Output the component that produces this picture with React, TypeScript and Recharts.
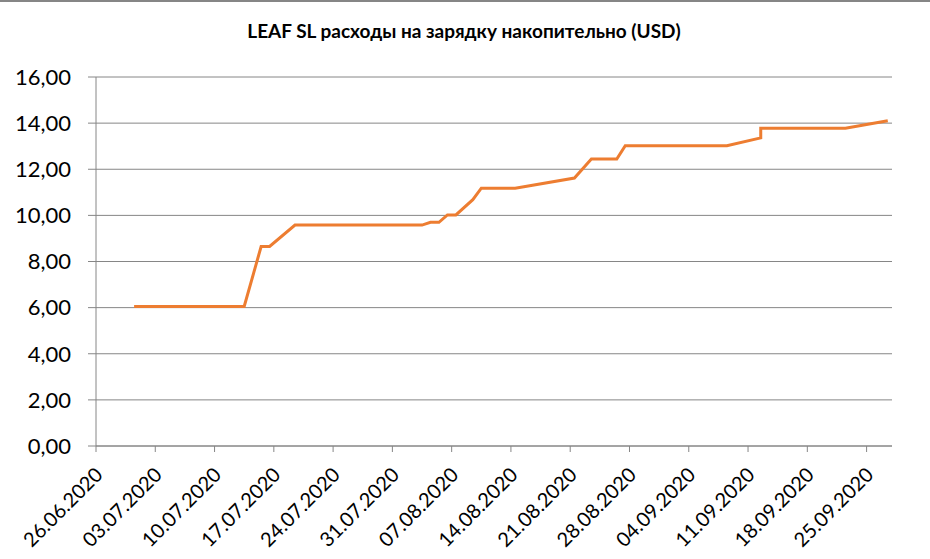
import { LineChart, Line, XAxis, YAxis, CartesianGrid } from "recharts";

const startDate = "26.06.2020";

const dates = [
  "30.06.2020", "13.07.2020", "15.07.2020", "16.07.2020", "19.07.2020",
  "03.08.2020", "04.08.2020", "05.08.2020", "06.08.2020", "07.08.2020",
  "09.08.2020", "10.08.2020", "14.08.2020", "21.08.2020", "23.08.2020",
  "26.08.2020", "27.08.2020", "08.09.2020", "12.09.2020", "12.09.2020",
  "22.09.2020", "27.09.2020",
];

const costs = [
  6.05, 6.05, 8.65, 8.65, 9.58,
  9.58, 9.7, 9.7, 10.02, 10.02,
  10.68, 11.18, 11.18, 11.62, 12.44,
  12.44, 13.02, 13.02, 13.36, 13.78,
  13.78, 14.1,
];

const tickLabels = [
  "26.06.2020", "03.07.2020", "10.07.2020", "17.07.2020", "24.07.2020",
  "31.07.2020", "07.08.2020", "14.08.2020", "21.08.2020", "28.08.2020",
  "04.09.2020", "11.09.2020", "18.09.2020", "25.09.2020",
];

const yTicks = [0, 2, 4, 6, 8, 10, 12, 14, 16];

const title = "LEAF SL расходы на зарядку накопительно (USD)";

const FONT = "Lato, 'Open Sans', sans-serif";
const AXIS = "#868686";

function toDay(s: string) {
  const [d, m, y] = s.split(".").map(Number);
  return Date.UTC(y, m - 1, d) / 86400000;
}

const day0 = toDay(startDate);

const data = dates.map((d, i) => ({ day: toDay(d) - day0, cost: costs[i] }));

// Excel-style date axis: points sit in the middle of each day slot
const tickDays = tickLabels.map((t) => toDay(t) - day0 - 0.5);
const labelByTick = new Map(tickDays.map((d, i) => [d, tickLabels[i]]));

function DateTick(props: any) {
  const { x, y, payload } = props;
  return (
    <g transform={`translate(${x + 8},${y + 22})`}>
      <text
        transform="rotate(-45)"
        textAnchor="end"
        fontFamily={FONT}
        fontSize={20}
        fill="#000"
      >
        {labelByTick.get(payload.value)}
      </text>
    </g>
  );
}

export default function App() {
  return (
    <div style={{ position: "relative", width: 930, height: 559, background: "#fff" }}>
      <style>{"body{margin:0}"}</style>
      <div
        style={{
          position: "absolute",
          left: 0,
          top: 0,
          width: 930,
          borderTop: `2px solid ${AXIS}`,
        }}
      />
      <div
        style={{
          position: "absolute",
          left: 0,
          top: 19,
          width: 928,
          textAlign: "center",
          fontFamily: FONT,
          fontWeight: 700,
          fontSize: 19,
          color: "#000",
        }}
      >
        {title}
      </div>
      <LineChart
        width={930}
        height={559}
        data={data}
        margin={{ top: 77, right: 38, bottom: 0, left: 0 }}
      >
        <CartesianGrid vertical={false} stroke={AXIS} strokeWidth={1} />
        <XAxis
          dataKey="day"
          type="number"
          domain={[-0.5, 93.5]}
          ticks={tickDays}
          interval={0}
          height={113}
          stroke={AXIS}
          tickSize={6}
          tick={<DateTick />}
        />
        <YAxis
          type="number"
          domain={[0, 16]}
          ticks={yTicks}
          width={96}
          stroke={AXIS}
          tickSize={8}
          tickMargin={17}
          tick={{ fill: "#000", fontFamily: FONT, fontSize: 22 }}
          tickFormatter={(v: number) => v.toFixed(2).replace(".", ",")}
        />
        <Line
          type="linear"
          dataKey="cost"
          stroke="#ED7D31"
          strokeWidth={3}
          dot={false}
          isAnimationActive={false}
        />
      </LineChart>
    </div>
  );
}
